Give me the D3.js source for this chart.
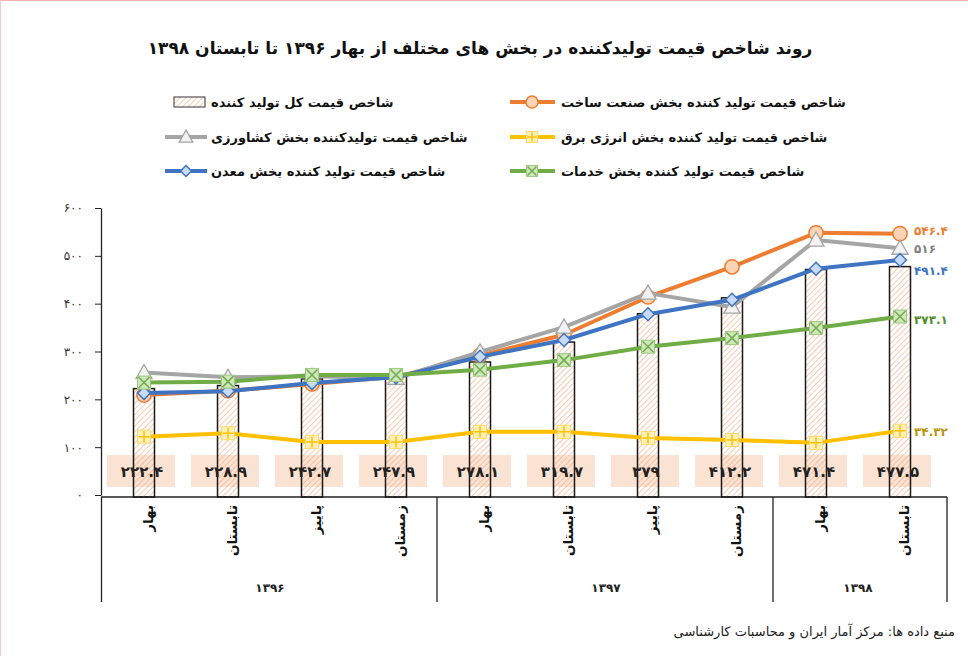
<!DOCTYPE html>
<html><head><meta charset="utf-8">
<script src="https://cdn.jsdelivr.net/npm/d3@7"></script>
<style>
html,body{margin:0;padding:0;background:#fff;}
svg{display:block;font-family:"DejaVu Sans",sans-serif;}
</style></head>
<body>
<svg id="c" width="968" height="656"></svg>
<script>
// ---------- DATA ----------
const seasons = ["بهار","تابستان","پاییز","زمستان","بهار","تابستان","پاییز","زمستان","بهار","تابستان"];
const yearLabels = ["۱۳۹۶","۱۳۹۷","۱۳۹۸"];
const yearSpans = [4,4,2];
const totalIndex = [222.4,228.9,242.7,247.9,278.1,319.7,379,412.2,471.4,477.5];
const construction = [209,218,232,247,292,335,414,477,548,546.4];
const agriculture = [256,246,248,244,299,351,422,393,533,516];
const mining = [213,217,234,246,289,324,378,408,473,491.4];
const services = [235,237,251,251,262,282,310,328,349,373.1];
const electricity = [122,129,111,111,132,132,119,115,109,134.32];
const endLabels = ["۵۴۶.۴","۵۱۶","۴۹۱.۴","۳۷۳.۱","۳۴.۳۲"];
const yTicks = [0,100,200,300,400,500,600];
const title = "روند شاخص قیمت تولیدکننده در بخش های مختلف از بهار ۱۳۹۶ تا تابستان ۱۳۹۸";
const source = "منبع داده ها: مرکز آمار ایران و محاسبات کارشناسی";
const legendNames = {
  total:"شاخص قیمت کل تولید کننده",
  construction:"شاخص قیمت تولید کننده بخش صنعت ساخت",
  agriculture:"شاخص قیمت تولیدکننده بخش کشاورزی",
  electricity:"شاخص قیمت تولید کننده بخش انرژی برق",
  mining:"شاخص قیمت تولید کننده بخش معدن",
  services:"شاخص قیمت تولید کننده بخش خدمات"
};

// ---------- HELPERS ----------
const faDigits = "۰۱۲۳۴۵۶۷۸۹";
const toFa = v => String(v).replace(/[0-9]/g, d => faDigits[+d]);

const svg = d3.select("#c");
const defs = svg.append("defs");
const pat = defs.append("pattern").attr("id","hatch").attr("patternUnits","userSpaceOnUse")
  .attr("width",4).attr("height",4).attr("patternTransform","rotate(45)");
pat.append("line").attr("x1",0).attr("y1",0).attr("x2",0).attr("y2",4)
  .attr("stroke","#f1a67a").attr("stroke-width",1.2);

// page border hint
svg.append("line").attr("x1",0).attr("y1",0.5).attr("x2",968).attr("y2",0.5).attr("stroke","#f3b3b3");
svg.append("line").attr("x1",0.5).attr("y1",0).attr("x2",0.5).attr("y2",656).attr("stroke","#f3c8c8");

// ---------- SCALES ----------
const x = d3.scaleBand().domain(d3.range(seasons.length)).range([102,942]);
const cx = i => x(i) + x.bandwidth()/2;
const y = d3.scaleLinear().domain([0,600]).range([495,208]);

// ---------- TITLE ----------
svg.append("text").attr("x",480).attr("y",54).attr("text-anchor","middle")
  .attr("font-size",17).attr("font-weight","bold").attr("fill","#111").text(title);

// ---------- LEGEND ----------
const colors = {construction:"#ed7d31", agriculture:"#a5a5a5", electricity:"#ffc000", mining:"#3f74c2", services:"#70ad47"};
const markerFill = {construction:"#fbd3b7", agriculture:"#f2f2f2", electricity:"#fff0b8", mining:"#c7dbf3", services:"#cfe6bf"};

function drawMarker(g, key, px, py, s){
  const c = colors[key], f = markerFill[key];
  if(key==="construction"){
    g.append("circle").attr("cx",px).attr("cy",py).attr("r",s*0.55).attr("fill",f).attr("stroke",c).attr("stroke-width",1.5);
  } else if(key==="agriculture"){
    const h=s*0.62;
    g.append("path").attr("d",`M${px},${py-h} L${px+h},${py+h*0.75} L${px-h},${py+h*0.75}Z`)
      .attr("fill",f).attr("stroke",c).attr("stroke-width",1.3);
  } else if(key==="mining"){
    const h=s*0.5;
    g.append("path").attr("d",`M${px},${py-h} L${px+h},${py} L${px},${py+h} L${px-h},${py}Z`)
      .attr("fill",f).attr("stroke",c).attr("stroke-width",1.5);
  } else if(key==="services"){
    const h=s*0.5;
    g.append("rect").attr("x",px-h).attr("y",py-h).attr("width",2*h).attr("height",2*h).attr("fill",f).attr("stroke","#9cc97f").attr("stroke-width",1);
    g.append("path").attr("d",`M${px-h+1},${py-h+1}L${px+h-1},${py+h-1}M${px+h-1},${py-h+1}L${px-h+1},${py+h-1}`).attr("stroke",c).attr("stroke-width",1.5);
  } else if(key==="electricity"){
    const h=s*0.5;
    g.append("rect").attr("x",px-h).attr("y",py-h).attr("width",2*h).attr("height",2*h).attr("fill",f).attr("stroke","#ffd966").attr("stroke-width",1);
    g.append("path").attr("d",`M${px},${py-h+1}L${px},${py+h-1}M${px-h+1},${py}L${px+h-1},${py}`).attr("stroke",c).attr("stroke-width",1.5);
  }
}

const leg = svg.append("g");
const legRight = [["construction",102],["electricity",137],["services",171]];
const legLeft = [["total",102],["agriculture",137],["mining",171]];
legRight.forEach(([k,ly])=>{
  leg.append("line").attr("x1",510).attr("x2",555).attr("y1",ly).attr("y2",ly).attr("stroke",colors[k]).attr("stroke-width",4);
  drawMarker(leg,k,532,ly,11);
  leg.append("text").attr("x",561).attr("y",ly).attr("dy","0.35em").attr("text-anchor","start")
    .attr("font-size",13).attr("font-weight","bold").attr("fill","#111").text(legendNames[k]);
});
legLeft.forEach(([k,ly])=>{
  if(k==="total"){
    leg.append("rect").attr("x",174).attr("y",ly-5).attr("width",31).attr("height",10)
      .attr("fill","url(#hatch)").attr("stroke","#333").attr("stroke-width",1);
  } else {
    leg.append("line").attr("x1",165).attr("x2",207).attr("y1",ly).attr("y2",ly).attr("stroke",colors[k]).attr("stroke-width",4);
    drawMarker(leg,k,186,ly,11);
  }
  leg.append("text").attr("x",211).attr("y",ly).attr("dy","0.35em").attr("text-anchor","start")
    .attr("font-size",13).attr("font-weight","bold").attr("fill","#111").text(legendNames[k]);
});

// ---------- AXES ----------
const yAxis = svg.append("g").attr("transform","translate(101,0)")
  .call(d3.axisLeft(y).tickValues(yTicks).tickSize(6).tickSizeOuter(0).tickPadding(12).tickFormat(toFa));
yAxis.select(".domain").attr("stroke","#222").attr("stroke-width",1.3);
yAxis.selectAll(".tick line").attr("stroke","#222");
yAxis.selectAll(".tick text").attr("font-size",12).attr("fill","#333").attr("font-family","DejaVu Sans");

// x axis + category table
const axisY = y(0) + 2;
svg.append("line").attr("x1",101).attr("x2",947).attr("y1",axisY).attr("y2",axisY).attr("stroke","#222").attr("stroke-width",1.5);
let acc = 0;
const bounds = [0];
yearSpans.forEach(n=>{acc+=n; bounds.push(acc);});
bounds.forEach((b,i)=>{
  const bx = i===bounds.length-1 ? 947 : (i===0 ? 101.5 : x(b)-1);
  svg.append("line").attr("x1",bx).attr("x2",bx).attr("y1",axisY).attr("y2",602).attr("stroke","#222").attr("stroke-width",1.3);
});
yearLabels.forEach((t,i)=>{
  const a = bounds[i], b = bounds[i+1];
  const mid = (x(a) + x(b-1) + x.bandwidth())/2;
  svg.append("text").attr("x",mid).attr("y",592).attr("text-anchor","middle").attr("font-size",12)
    .attr("font-weight","bold").attr("fill","#222").text(t);
});
seasons.forEach((s,i)=>{
  svg.append("text").attr("transform",`translate(${cx(i)+4},${axisY+8}) rotate(-90)`)
    .attr("text-anchor","end").attr("dominant-baseline","central")
    .attr("font-size",13.5).attr("font-weight","bold").attr("fill","#111").text(s);
});

// ---------- BARS ----------
const barW = 21;
const gBars = svg.append("g");
totalIndex.forEach((v,i)=>{
  gBars.append("rect").attr("x",cx(i)-37).attr("y",455).attr("width",68).attr("height",32)
    .attr("fill","#f9d9c6").attr("opacity",0.75);
});
gBars.selectAll("rect.bar").data(totalIndex).join("rect").attr("class","bar")
  .attr("x",(d,i)=>cx(i)-barW/2).attr("y",d=>y(d)).attr("width",barW).attr("height",d=>axisY-y(d))
  .attr("fill","url(#hatch)").attr("stroke","#1a1a1a").attr("stroke-width",1.5);
gBars.selectAll("text.bl").data(totalIndex).join("text").attr("class","bl")
  .attr("x",(d,i)=>cx(i)-2).attr("y",472).attr("dy","0.35em").attr("text-anchor","middle")
  .attr("font-size",15).attr("font-weight","bold").attr("fill","#222").text(d=>toFa(d));

// ---------- LINES ----------
const series = [
  ["construction",construction],
  ["agriculture",agriculture],
  ["mining",mining],
  ["services",services],
  ["electricity",electricity]
];
const line = d3.line().x((d,i)=>cx(i)).y(d=>y(d));
const gLines = svg.append("g");
series.forEach(([k,vals])=>{
  gLines.append("path").datum(vals).attr("d",line).attr("fill","none")
    .attr("stroke",colors[k]).attr("stroke-width",4).attr("stroke-linejoin","round");
  vals.forEach((v,i)=>drawMarker(gLines,k,cx(i),y(v),13));
});

// ---------- END LABELS ----------
const endColors = ["#ed7d31","#7f7f7f","#3f74c2","#4f8a2b","#b8940f"];
const endKeys = [construction, agriculture, mining, services, electricity];
const endOffsets = [-3,1,11,3,1];
endKeys.forEach((vals,j)=>{
  const v = vals[vals.length-1];
  svg.append("text").attr("x",914).attr("y",y(v)+endOffsets[j]).attr("dy","0.35em")
    .attr("font-size",12).attr("font-weight","bold").attr("fill",endColors[j]).text(endLabels[j]);
});

// ---------- SOURCE ----------
svg.append("text").attr("x",955).attr("y",636).attr("text-anchor","end").attr("font-size",13)
  .attr("fill","#222").text(source);
</script>
</body></html>
